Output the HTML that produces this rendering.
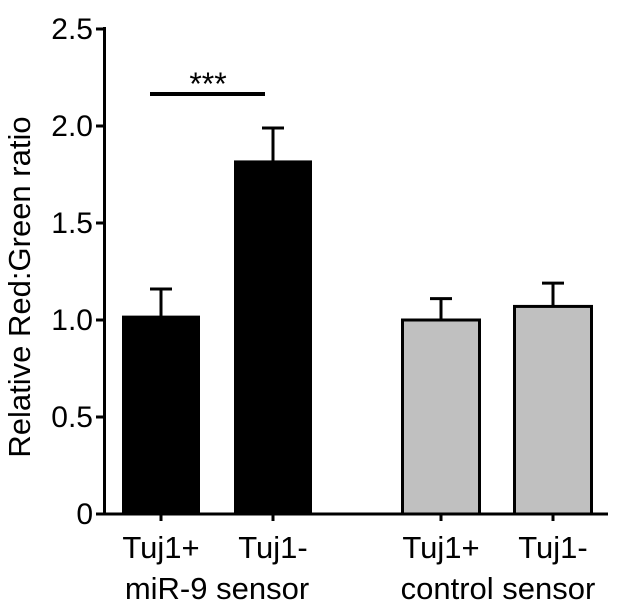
<!DOCTYPE html>
<html><head><meta charset="utf-8"><style>
html,body{margin:0;padding:0;background:#fff;}
svg{display:block;font-family:"Liberation Sans",Arial,sans-serif;}
</style></head><body>
<svg id="chart" width="621" height="610"></svg>
<script>
const categories = ["Tuj1+","Tuj1-","Tuj1+","Tuj1-"];
const values = [1.02, 1.82, 1.00, 1.07];
const errors = [0.14, 0.17, 0.11, 0.12];
const fills = ["#000","#000","#c0c0c0","#c0c0c0"];
const yTicks = [0, 0.5, 1.0, 1.5, 2.0, 2.5];
const yTickLabels = ["0","0.5","1.0","1.5","2.0","2.5"];
const groupLabels = ["miR-9 sensor","control sensor"];

const NS="http://www.w3.org/2000/svg";
const svg=document.getElementById('chart');
const y0=514, pxPerUnit=194;
const yScale=v=>y0-v*pxPerUnit;
const centers=[161,273,441,553];
const xScale=i=>centers[i];
const barW=77;
function mk(tag,attrs,parent){const e=document.createElementNS(NS,tag);for(const k in attrs)e.setAttribute(k,attrs[k]);(parent||svg).appendChild(e);return e;}

let ax=mk('line',{x1:104.5,y1:yScale(2.5)-2,x2:104.5,y2:y0+1.5,stroke:'#000','stroke-width':3});


let xa=mk('line',{x1:103,y1:y0,x2:608,y2:y0,stroke:'#000','stroke-width':3});



yTicks.forEach((t,i)=>{
  const y=yScale(t);
  const tk=mk('line',{x1:96,y1:y,x2:104,y2:y,stroke:'#000','stroke-width':3});
  
  
  const tx=mk('text',{x:93,y:y+10,'text-anchor':'end','font-size':30});
  tx.textContent=yTickLabels[i];
  
  
});

const yt=mk('text',{x:0,y:0,'text-anchor':'middle','font-size':31,transform:'translate(30,287) rotate(-90)'});
yt.textContent='Relative Red:Green ratio';



values.forEach((v,i)=>{
  const cx=xScale(i), top=yScale(v), et=yScale(v+errors[i]);
  const el=mk('line',{x1:cx,y1:top,x2:cx,y2:et,stroke:'#000','stroke-width':3});
  
  
  const cap=mk('line',{x1:cx-11,y1:et,x2:cx+11,y2:et,stroke:'#000','stroke-width':3});
  
  
  const r=mk('rect',{x:cx-barW/2,y:top,width:barW,height:y0-top,fill:fills[i],stroke:'#000','stroke-width':fills[i]==='#000'?1:3});
  
  
  const tk=mk('line',{x1:cx,y1:y0,x2:cx,y2:y0+7,stroke:'#000','stroke-width':3});
  
  
  const lb=mk('text',{x:cx,y:558,'text-anchor':'middle','font-size':31});
  lb.textContent=categories[i];
  
  
});
[[217,0],[498,1]].forEach(([x,g])=>{
  const t=mk('text',{x:x,y:599,'text-anchor':'middle','font-size':31});
  t.textContent=groupLabels[g];
  
  
});
const sl=mk('line',{x1:150,y1:94,x2:265,y2:94,stroke:'#000','stroke-width':4});


const st=mk('text',{x:208,y:95,'text-anchor':'middle','font-size':32});
st.textContent='***';


</script>
</body></html>
